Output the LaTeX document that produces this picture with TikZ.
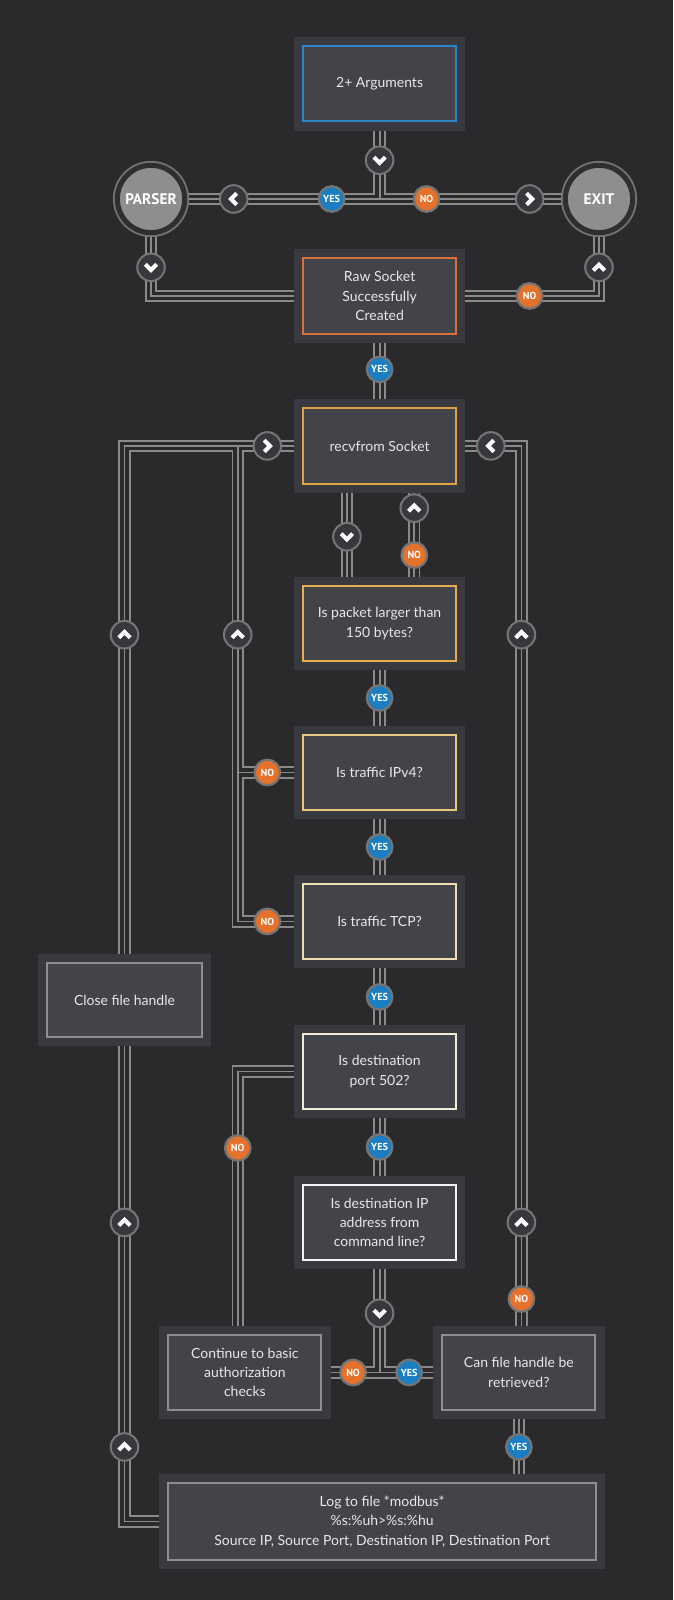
\documentclass[tikz,border=0pt]{standalone}
\usepackage{fontspec}
\setmainfont{Lato}
\newfontfamily\badgefont{PT Sans}
\usetikzlibrary{backgrounds,calc}
\definecolor{bgC}{HTML}{2A2A2C}
\definecolor{frameC}{HTML}{393A3F}
\definecolor{innerC}{HTML}{42444A}
\definecolor{pipeC}{HTML}{8A8A8A}
\definecolor{ringC}{HTML}{757575}
\definecolor{chevC}{HTML}{37383C}
\definecolor{yesC}{HTML}{1B7EC2}
\definecolor{noC}{HTML}{E5722C}
\definecolor{bBlueC}{HTML}{2A86C6}
\definecolor{bRawC}{HTML}{D8703A}
\definecolor{bRecvC}{HTML}{E2A044}
\definecolor{bPktC}{HTML}{E6AE50}
\definecolor{bIPC}{HTML}{E9C77E}
\definecolor{bTCPC}{HTML}{EEDDB6}
\definecolor{bPortC}{HTML}{F1EBD8}
\definecolor{bDstC}{HTML}{F4F4F4}
\definecolor{bGreyC}{HTML}{8E8E8E}
\definecolor{txtC}{HTML}{E8E8E8}
\definecolor{termFill}{HTML}{8E8E8E}
\definecolor{termRing}{HTML}{2F2F31}

\newcommand\chv[2]{\draw[chevmark, shift={(#1.center)}, rotate=#2] (-5.6,-3) -- (0,2.6) -- (5.6,-3);}

\newcommand\pipepaths[1]{%
  \draw[#1] (bA.south) -- (jTop);
  \draw[#1] (parser.center) -- (exitc.center);
  \draw[#1] (parser.center) |- (bRaw.west);
  \draw[#1] (bRaw.east) -| (exitc.center);
  \draw[#1] (bRaw.south) -- (bRecv.north);
  \draw[#1] (bRecv.south -| xDown) -- (bPkt.north -| xDown);
  \draw[#1] (bRecv.south -| xUp) -- (bPkt.north -| xUp);
  \draw[#1] (bPkt.south) -- (bIP4.north);
  \draw[#1] (bIP4.south) -- (bTCP.north);
  \draw[#1] (bTCP.south) -- (bPort.north);
  \draw[#1] (bPort.south) -- (bDst.north);
  \draw[#1] (bClose.north) |- (bRecv.west);
  \draw[#1] (bTCP.west) -| (xIn |- bRecv.west);
  \draw[#1] (bIP4.west) -- (bIP4.west -| xIn);
  \draw[#1] (bClose.south) |- (bLog.west);
  \draw[#1] (bCan.north -| xR) |- (bRecv.east);
  \draw[#1] (bPort.west) -| (xIn |- bCont.north);
  \draw[#1] (bDst.south) -- (jBot);
  \draw[#1] (bCont.east) -- (bCan.west);
  \draw[#1] (bCan.south) -- (bCan.south |- bLog.north);
}

\begin{document}
\begin{tikzpicture}[x=1pt,y=-1pt,
  box/.style={rectangle, fill=innerC, draw=#1, line width=2pt,
    minimum width=150pt, minimum height=74pt, inner sep=0pt, text=txtC,
    align=center, font=\fontsize{13.7}{19}\selectfont,
    preaction={draw=frameC, line width=18pt}},
  chev/.style={circle, fill=chevC, draw=ringC, line width=2pt, minimum size=27pt, inner sep=0pt},
  chevmark/.style={draw=white, line width=4pt, line join=miter, line cap=butt},
  badge/.style={circle, fill=#1, draw=ringC, line width=2.2pt, minimum size=25pt, inner sep=0pt,
    text=white, font=\badgefont\bfseries\fontsize{10}{10}\selectfont},
  term/.style={circle, fill=termFill, draw=termRing, line width=5pt, minimum size=66pt, inner sep=0pt,
    text=white, font=\badgefont\bfseries\fontsize{15}{15}\selectfont,
    preaction={draw=ringC, line width=8.6pt}},
  pipeo/.style={draw=pipeC, line width=12pt},
  pipem/.style={draw=bgC, line width=8.4pt},
  pipec/.style={draw=pipeC, line width=1.8pt}
]
\useasboundingbox (0,0) rectangle (660,1568);

% coordinates
\coordinate (jTop) at (372,195);
\coordinate (jBot) at (372,1345);
\coordinate (xDown) at (340,0);
\coordinate (xUp) at (406,0);
\coordinate (xIn) at (233,0);
\coordinate (xR) at (511,0);

% boxes
\node[box=bBlueC] (bA) at (372,82) {2+ Arguments};
\node[box=bRawC] (bRaw) at (372,290) {Raw Socket\\Successfully\\Created};
\node[box=bRecvC] (bRecv) at (372,437) {recvfrom Socket};
\node[box=bPktC] (bPkt) at (372,611) {Is packet larger than\\150 bytes?};
\node[box=bIPC] (bIP4) at (372,757) {Is traffic IPv4?};
\node[box=bTCPC] (bTCP) at (372,903) {Is traffic TCP?};
\node[box=bPortC] (bPort) at (372,1050) {Is destination\\port 502?};
\node[box=bDstC] (bDst) at (372,1198) {Is destination IP\\address from\\command line?};
\node[box=bGreyC, minimum width=151pt, minimum height=73pt] (bClose) at (122,980) {Close file handle};
\node[box=bGreyC] (bCont) at (240,1345) {Continue to basic\\authorization\\checks};
\node[box=bGreyC] (bCan) at (508.5,1345) {Can file handle be\\retrieved?};
\node[box=bGreyC, minimum width=419pt, minimum height=75pt] (bLog) at (374.5,1491)
  {Log to file *modbus*\\\%s:\%uh>\%s:\%hu\\Source IP, Source Port, Destination IP, Destination Port};

% terminals
\node[term] (parser) at (148,195) {PARSER};
\node[term] (exitc) at (587,195) {EXIT};

% pipes behind everything
\begin{scope}[on background layer]
  \fill[bgC] (0,0) rectangle (660,1568);
  \pipepaths{pipeo}
  \pipepaths{pipem}
  \pipepaths{pipec}
\end{scope}

% chevrons (angle: 0 down, 180 up, 90 right, -90 left)
\node[chev] (c1) at (372,157) {};   \chv{c1}{0}
\node[chev] (cL) at (229,195) {};   \chv{cL}{-90}
\node[chev] (cR) at (519,195) {};   \chv{cR}{90}
\node[chev] (c2) at (148,262) {};   \chv{c2}{0}
\node[chev] (c3) at (587,262) {};   \chv{c3}{180}
\node[chev] (c4) at (262,437) {};   \chv{c4}{90}
\node[chev] (c5) at (481,437) {};   \chv{c5}{-90}
\node[chev] (c6) at (340,526) {};   \chv{c6}{0}
\node[chev] (c7) at (406,498) {};   \chv{c7}{180}
\node[chev] (c8) at (122,622) {};   \chv{c8}{180}
\node[chev] (c9) at (233,622) {};   \chv{c9}{180}
\node[chev] (c10) at (511,622) {};  \chv{c10}{180}
\node[chev] (c11) at (122,1198) {}; \chv{c11}{180}
\node[chev] (c12) at (511,1198) {}; \chv{c12}{180}
\node[chev] (c13) at (372,1287) {}; \chv{c13}{0}
\node[chev] (c14) at (122,1418) {}; \chv{c14}{180}

% badges
\node[badge=yesC] (y1) at (325,195) {YES};
\node[badge=noC]  (n1) at (418,195) {NO};
\node[badge=noC]  (n2) at (519,290) {NO};
\node[badge=yesC] (y2) at (372,362) {YES};
\node[badge=noC]  (n3) at (406,544) {NO};
\node[badge=yesC] (y3) at (372,684) {YES};
\node[badge=noC]  (n4) at (262,757) {NO};
\node[badge=yesC] (y4) at (372,830) {YES};
\node[badge=noC]  (n5) at (262,903) {NO};
\node[badge=yesC] (y5) at (372,977) {YES};
\node[badge=noC]  (n6) at (233,1125) {NO};
\node[badge=yesC] (y6) at (372,1124) {YES};
\node[badge=noC]  (n7) at (511,1273) {NO};
\node[badge=noC]  (n8) at (346,1345) {NO};
\node[badge=yesC] (y7) at (401,1345) {YES};
\node[badge=yesC] (y8) at (508.5,1418) {YES};
\end{tikzpicture}
\end{document}
